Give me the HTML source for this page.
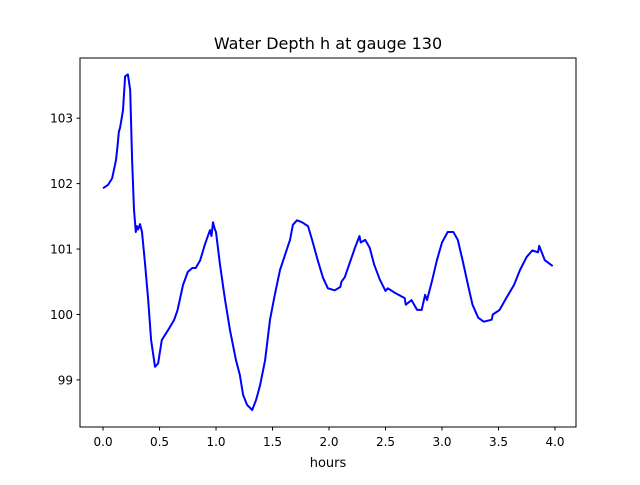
<!DOCTYPE html>
<html><head><meta charset="utf-8"><style>
body{margin:0;background:#fff;}
svg text{font-family:"DejaVu Sans","Liberation Sans",sans-serif;fill:#000;}
</style></head><body>
<svg id="chart" width="640" height="480" viewBox="0 0 640 480" xmlns="http://www.w3.org/2000/svg">
<rect x="0" y="0" width="640" height="480" fill="#fff"/>
<text x="328" y="49" font-size="16" text-anchor="middle">Water Depth h at gauge 130</text>
<g id="plot"></g>
<rect x="80" y="58" width="496" height="369" fill="none" stroke="#000" stroke-width="1"/>
<g id="xticks"></g>
<g id="yticks"></g>
<text x="328" y="467" font-size="13" text-anchor="middle">hours</text>
</svg>
<script>
const hours=[0,0.044,0.08,0.115,0.13,0.14,0.15,0.177,0.195,0.22,0.24,0.257,0.274,0.29,0.3,0.31,0.327,0.345,0.37,0.4,0.425,0.46,0.487,0.52,0.575,0.63,0.66,0.708,0.75,0.79,0.82,0.86,0.9,0.947,0.96,0.973,0.99,1.0,1.035,1.08,1.124,1.177,1.21,1.24,1.274,1.32,1.354,1.39,1.434,1.478,1.52,1.566,1.61,1.655,1.68,1.717,1.76,1.814,1.85,1.9,1.947,1.99,2.05,2.1,2.11,2.14,2.186,2.23,2.27,2.28,2.32,2.36,2.4,2.45,2.5,2.52,2.584,2.67,2.68,2.73,2.78,2.82,2.85,2.867,2.91,2.955,3.0,3.05,3.1,3.14,3.186,3.23,3.27,3.32,3.37,3.44,3.45,3.51,3.575,3.637,3.69,3.75,3.8,3.85,3.86,3.91,3.98];
const depth=[101.93,101.98,102.08,102.36,102.6,102.8,102.85,103.12,103.64,103.67,103.43,102.36,101.6,101.26,101.35,101.3,101.38,101.26,100.8,100.22,99.61,99.2,99.25,99.61,99.76,99.92,100.07,100.45,100.65,100.71,100.71,100.83,101.06,101.29,101.2,101.41,101.3,101.26,100.76,100.22,99.76,99.3,99.08,98.77,98.62,98.54,98.69,98.92,99.3,99.92,100.3,100.68,100.91,101.14,101.37,101.44,101.41,101.35,101.14,100.83,100.56,100.4,100.37,100.42,100.5,100.57,100.8,101.02,101.2,101.1,101.14,101.02,100.76,100.53,100.36,100.4,100.33,100.25,100.15,100.22,100.07,100.07,100.3,100.22,100.5,100.83,101.1,101.26,101.26,101.14,100.8,100.45,100.15,99.95,99.89,99.92,100.0,100.07,100.27,100.45,100.68,100.88,100.98,100.95,101.05,100.83,100.74];
const xTicks=[0,0.5,1,1.5,2,2.5,3,3.5,4];
const xTickLabels=["0.0","0.5","1.0","1.5","2.0","2.5","3.0","3.5","4.0"];
const yTicks=[99,100,101,102,103];
const yTickLabels=["99","100","101","102","103"];
const X0=80,X1=576,Y0=58,Y1=427,xmin=-0.204,xmax=4.186,ymin=98.28,ymax=103.92;
const xs=v=>X0+(v-xmin)/(xmax-xmin)*(X1-X0);
const ys=v=>Y1-(v-ymin)/(ymax-ymin)*(Y1-Y0);
const NS="http://www.w3.org/2000/svg";
const plot=document.getElementById('plot');
const p=document.createElementNS(NS,'path');
p.setAttribute('d',hours.map((h,i)=>(i?'L':'M')+xs(h).toFixed(1)+' '+ys(depth[i]).toFixed(1)).join(''));
p.setAttribute('fill','none');p.setAttribute('stroke','#0000ff');p.setAttribute('stroke-width','2');p.setAttribute('stroke-linejoin','round');


plot.appendChild(p);
const xg=document.getElementById('xticks');
xTicks.forEach((t,i)=>{const x=xs(t);
const l=document.createElementNS(NS,'line');l.setAttribute('x1',x);l.setAttribute('x2',x);l.setAttribute('y1',427);l.setAttribute('y2',430.5);l.setAttribute('stroke','#000');


xg.appendChild(l);
const tx=document.createElementNS(NS,'text');tx.setAttribute('x',x);tx.setAttribute('y',446);tx.setAttribute('font-size','12');tx.setAttribute('text-anchor','middle');tx.textContent=xTickLabels[i];


xg.appendChild(tx);});
const yg=document.getElementById('yticks');
yTicks.forEach((t,i)=>{const y=ys(t);
const l=document.createElementNS(NS,'line');l.setAttribute('x1',76.5);l.setAttribute('x2',80);l.setAttribute('y1',y);l.setAttribute('y2',y);l.setAttribute('stroke','#000');


yg.appendChild(l);
const tx=document.createElementNS(NS,'text');tx.setAttribute('x',73);tx.setAttribute('y',y+4.5);tx.setAttribute('font-size','12');tx.setAttribute('text-anchor','end');tx.textContent=yTickLabels[i];


yg.appendChild(tx);});
</script>
</body></html>
